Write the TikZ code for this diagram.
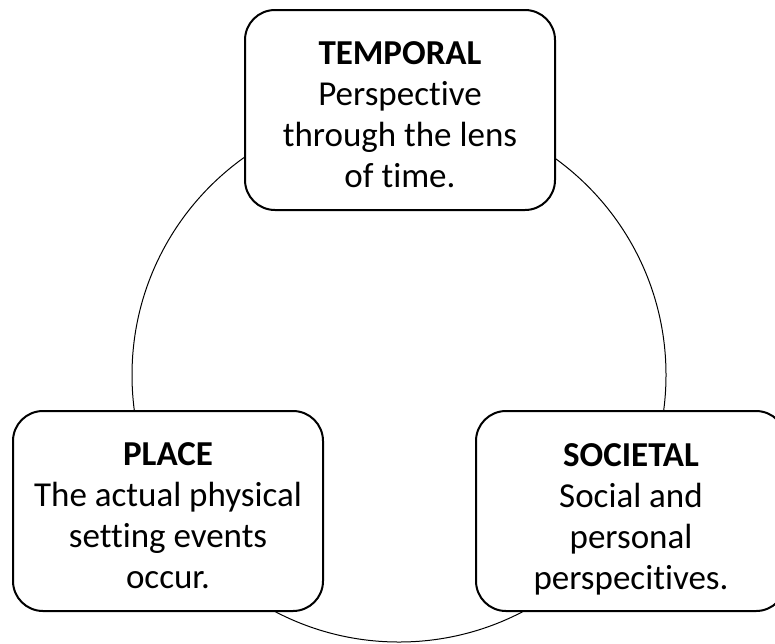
\documentclass[tikz,border=0pt]{standalone}
\usepackage{fontspec}
\setmainfont{Carlito}[Ligatures=NoCommon]
\begin{document}
\begin{tikzpicture}[x=1pt,y=-1pt,
  lens/.style={draw=black, line width=2pt, fill=white, rounded corners=30pt,
    minimum width=310pt, minimum height=200pt, inner sep=0pt},
  lenstext/.style={align=center, inner sep=0pt,
    font=\fontsize{35}{41}\selectfont},
  ring/.style={draw=black, line width=1pt}]
  \useasboundingbox (0,0) rectangle (775,643);
  % circle linking the three perspectives
  \node[ring, circle, minimum size=534pt, inner sep=0pt] (ring) at (399,375) {};
  % the three boxes
  \node[lens] (tbox) at (400,110) {};
  \node[lens] (pbox) at (168,511) {};
  \node[lens] (sbox) at (631,511) {};
  % their texts
  \node[lenstext] (temporal) at ([yshift=-8pt]tbox.center)
    {\strut\textbf{TEMPORAL}\\Perspective\\through the lens\\of time.\strut};
  \node[lenstext] (place) at ([yshift=-8pt]pbox.center)
    {\strut\textbf{PLACE}\\The actual physical\\setting events\\occur.\strut};
  \node[lenstext] (societal) at ([yshift=-9pt]sbox.center)
    {\strut\textbf{SOCIETAL}\\Social and\\personal\\perspecitives.\strut};
\end{tikzpicture}
\end{document}
